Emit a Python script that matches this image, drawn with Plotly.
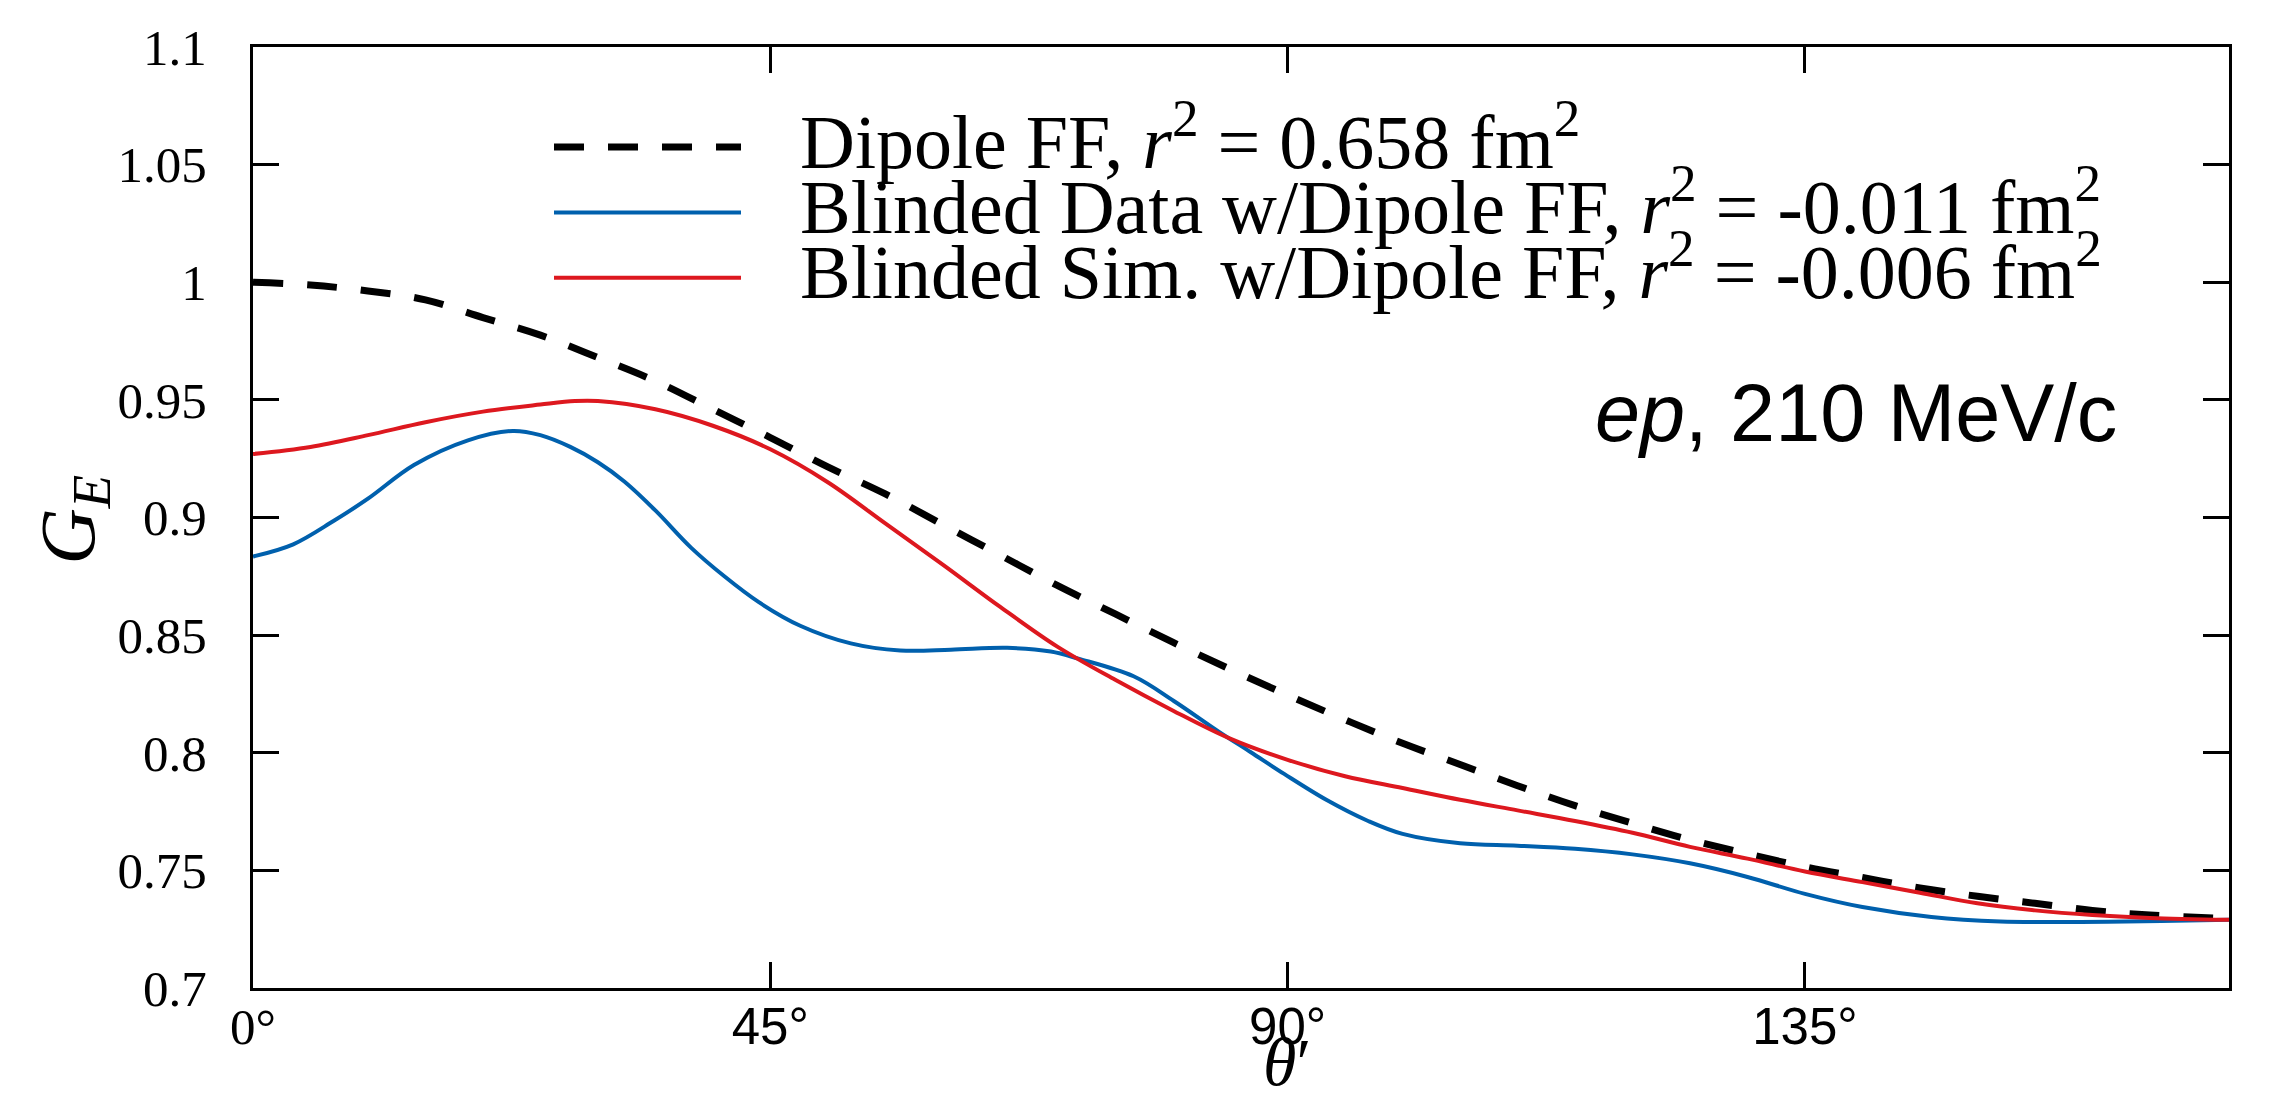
import plotly.graph_objects as go

# ---------------- data ----------------
x_max_deg = 171.887  # 3 rad

dipole_x = [0, 5, 10, 15, 20, 25, 30, 35, 40, 45, 50, 55, 60, 65, 70, 75, 80, 85, 90,
            95, 100, 105, 110, 115, 120, 125, 130, 135, 140, 145, 150, 155, 160, 165, 171.887]
dipole_y = [1.000, 0.9988, 0.9963, 0.9925, 0.985, 0.9775, 0.968, 0.958, 0.946, 0.934,
            0.9215, 0.910, 0.897, 0.884, 0.871, 0.859, 0.847, 0.8355, 0.8245, 0.814,
            0.804, 0.795, 0.786, 0.7775, 0.770, 0.763, 0.757, 0.7515, 0.747, 0.7425,
            0.739, 0.736, 0.733, 0.731, 0.7295]

data_x = [0, 3.5, 7, 10, 14, 18.7, 22.6, 25, 27.6, 30, 32.3, 35, 38.1, 41, 44, 47.6, 52,
          56.3, 60.7, 65.6, 69.4, 71.8, 76.6, 80.1, 84, 86.8, 89.7, 93.4, 97, 100, 105,
          110, 115, 120, 125, 130, 135, 140, 146, 152, 159, 166, 171.887]
data_y = [0.8834, 0.8886, 0.8985, 0.908, 0.9223, 0.9328, 0.9368, 0.935, 0.930, 0.9235,
          0.9153, 0.903, 0.8872, 0.875, 0.864, 0.854, 0.8465, 0.8435, 0.8438, 0.8446,
          0.843, 0.840, 0.8325, 0.822, 0.809, 0.8002, 0.791, 0.7799, 0.771, 0.7655,
          0.7615, 0.7605, 0.7592, 0.7568, 0.7530, 0.7472, 0.7400, 0.7344, 0.7302,
          0.7283, 0.7281, 0.7285, 0.729]

sim_x = [0, 5, 10, 15, 20, 25, 28, 30, 35, 40, 45, 50, 55, 60, 65, 70, 75, 80, 85, 90,
         95, 100, 105, 110, 115, 120, 125, 130, 135, 140, 145, 150, 155, 160, 165, 171.887]
sim_y = [0.927, 0.930, 0.935, 0.9405, 0.945, 0.948, 0.9495, 0.9495, 0.946, 0.939, 0.929,
         0.915, 0.8975, 0.880, 0.862, 0.845, 0.831, 0.818, 0.806, 0.797, 0.790, 0.785,
         0.780, 0.7755, 0.771, 0.766, 0.760, 0.755, 0.7495, 0.745, 0.7405, 0.736, 0.733,
         0.731, 0.7298, 0.729]

x_tickvals = [0, 45, 90, 135]
x_ticktext = ['<span style="font-family:Liberation Serif">0°</span>', '45°', '90°', '135°']
y_tickvals = [0.7, 0.75, 0.8, 0.85, 0.9, 0.95, 1.0, 1.05, 1.1]
y_ticktext = ['0.7', '0.75', '0.8', '0.85', '0.9', '0.95', '1', '1.05', '1.1']

legend_labels = [
    'Dipole FF, <i>r</i><sup>2</sup> = 0.658 fm<sup>2</sup>',
    'Blinded Data w/Dipole FF, <i>r</i><sup>2</sup> = -0.011 fm<sup>2</sup>',
    'Blinded Sim. w/Dipole FF, <i>r</i><sup>2</sup> = -0.006 fm<sup>2</sup>',
]

# ---------------- styling ----------------
BLACK = '#000000'
BLUE = '#0060ad'
RED = '#dd181f'
DASH = '30px,24px'

OFF = 8                      # default page body margin
W, H = 2289 - 2 * OFF, 1113 - 2 * OFF
ML, MT = 253 - OFF, 38 - OFF
PW, PH = 2229 - 253, 988 - 38
MR, MB = W - ML - PW, H - MT - PH


def px(x_page):
    return (x_page - OFF - ML) / PW


def py(y_page):
    return (OFF + MT + PH - y_page) / PH


fig = go.Figure()
fig.add_trace(go.Scatter(x=dipole_x, y=dipole_y, mode='lines', line_shape='spline',
                         line=dict(color=BLACK, width=7, dash=DASH), showlegend=False))
fig.add_trace(go.Scatter(x=data_x, y=data_y, mode='lines', line_shape='spline',
                         line=dict(color=BLUE, width=4), showlegend=False))
fig.add_trace(go.Scatter(x=sim_x, y=sim_y, mode='lines', line_shape='spline',
                         line=dict(color=RED, width=4), showlegend=False))

# manual legend
leg_rows_y = [139, 205, 271]
leg_styles = [dict(color=BLACK, width=7, dash=DASH), dict(color=BLUE, width=4),
              dict(color=RED, width=4)]
for yy, st, lab in zip(leg_rows_y, leg_styles, legend_labels):
    fig.add_shape(type='line', xref='paper', yref='paper', x0=px(554), x1=px(741),
                  y0=py(yy), y1=py(yy), line=st)
    fig.add_annotation(xref='paper', yref='paper', x=px(798), y=py(yy - 11), text=lab,
                       showarrow=False, xanchor='left', yanchor='middle',
                       font=dict(family='Liberation Serif', size=76, color=BLACK))

# axis titles and label
fig.add_annotation(xref='paper', yref='paper', x=px(73), y=py(515),
                   text='<i>G</i><sub><i>E</i></sub>', textangle=-90, showarrow=False,
                   xanchor='center', yanchor='middle',
                   font=dict(family='Liberation Serif', size=78, color=BLACK))
fig.add_annotation(xref='paper', yref='paper', x=px(1287), y=py(1103),
                   text='<i>θ</i>′', showarrow=False, xanchor='center', yanchor='bottom',
                   font=dict(family='Liberation Serif', size=68, color=BLACK))
fig.add_annotation(xref='paper', yref='paper', x=px(2119), y=py(408),
                   text='<i>ep</i>, 210 MeV/c', showarrow=False, xanchor='right',
                   yanchor='middle',
                   font=dict(family='Liberation Sans', size=81, color=BLACK))

axis_common = dict(showline=True, linewidth=3, linecolor=BLACK, mirror='ticks',
                   ticks='inside', ticklen=26, tickwidth=3, tickcolor=BLACK,
                   showgrid=False, zeroline=False)

fig.update_layout(
    width=W, height=H,
    margin=dict(l=ML, r=MR, t=MT, b=MB),
    paper_bgcolor='white', plot_bgcolor='white',
    xaxis=dict(range=[0, x_max_deg], tickvals=x_tickvals, ticktext=x_ticktext,
               tickfont=dict(family='Liberation Sans', size=51, color=BLACK),
               ticklabelstandoff=-8, **axis_common),
    yaxis=dict(range=[0.7, 1.1], tickvals=y_tickvals, ticktext=y_ticktext,
               tickfont=dict(family='Liberation Serif', size=51, color=BLACK),
               ticklabelstandoff=33, **axis_common),
)

fig.write_html('out.html')
